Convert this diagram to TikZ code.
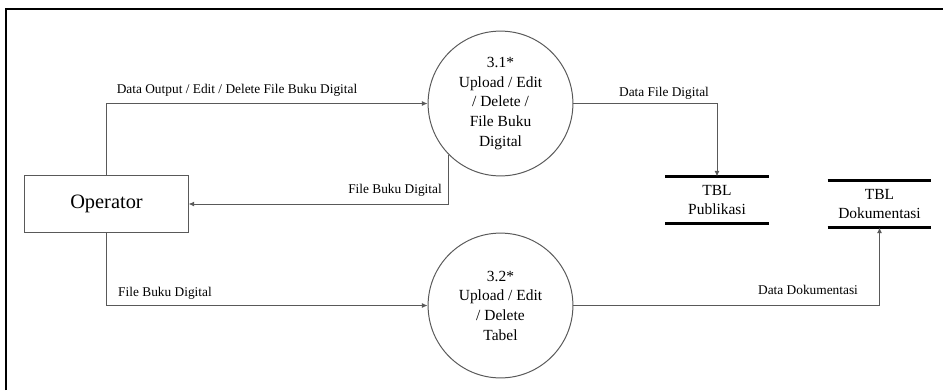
\documentclass[tikz,border=0pt]{standalone}
\usepackage{fontspec}
\setmainfont{Liberation Serif}
\usetikzlibrary{arrows.meta}

\begin{document}
\begin{tikzpicture}[x=0.025cm, y=-0.025cm,
    flow/.style={draw=black!65, line width=0.7pt, -{Latex[length=4pt,width=3.5pt]}},
    proc/.style={circle, draw=black!65, line width=0.7pt, minimum size=3.62cm, inner sep=0pt,
                 align=center, font=\fontsize{11}{14}\selectfont},
    store/.style={minimum width=2.575cm, minimum height=1.16cm, inner sep=0pt, align=center,
                  font=\fontsize{11}{13}\selectfont},
    bar/.style={draw=black, line width=2pt},
    lbl/.style={font=\fontsize{9.5}{11}\selectfont, inner sep=0pt}]
         \useasboundingbox (0, 0) rectangle (945, 390);
         \draw[line width=1.7pt] (6, 390) -- (6, 9) -- (943, 9);
         % entitas dan proses
         \node[draw=black!65][line width=0.7pt][minimum width=4.075cm, minimum height=1.425cm][font=\fontsize{14.5}{16}\selectfont] (op) at (106.5, 204) {Operator};
         \node[proc] (p31) at (500.5, 103.5) {3.1*\\Upload / Edit\\/ Delete /\\File Buku\\Digital};
         \node[proc] (p32) at (500.5, 305.5) {3.2*\\Upload / Edit\\/ Delete\\Tabel};
         % data store
         \node[store] (pub) at (717, 200) {TBL\\Publikasi};
         \draw[bar] (pub.north west) -- (pub.north east);
         \draw[bar] (pub.south west) -- (pub.south east);
         \node[store] (dok) at (879.5, 204) {TBL\\Dokumentasi};
         \draw[bar] (dok.north west) -- (dok.north east);
         \draw[bar] (dok.south west) -- (dok.south east);
         % aliran data
         \draw[flow] (op.north) |- (p31.west);
         \node[lbl] (l1) at (237, 90) {Data Output / Edit / Delete File Buku Digital};
         \draw[flow] (p31.225) |- (op.east);
         \node[lbl] (l2) at (395, 190) {File Buku Digital};
         \draw[flow] (op.south) |- (p32.west);
         \node[lbl] (l3) at (165, 293) {File Buku Digital};
         \draw[flow] (p31.east) -| (pub.north);
         \node[lbl] (l4) at (664, 93) {Data File Digital};
         \draw[flow] (p32.east) -| (dok.south);
         \node[lbl] (l5) at (808, 290) {Data Dokumentasi};
      \end{tikzpicture}
\end{document}
